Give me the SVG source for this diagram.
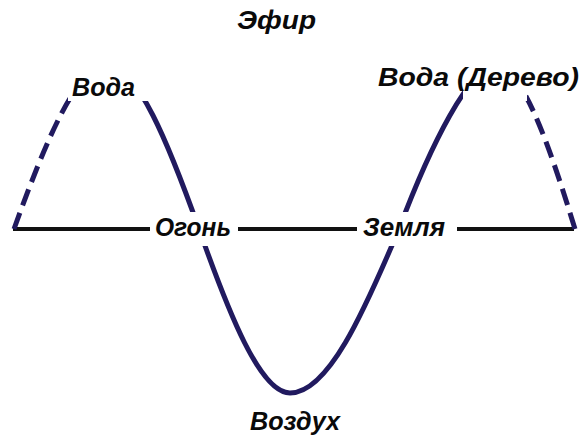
<svg xmlns="http://www.w3.org/2000/svg" width="584" height="439" viewBox="0 0 584 439">
  <style>
    .axis { stroke: #111111; stroke-width: 4; fill: none; stroke-linecap: butt; }
    .wave { stroke: #211a5f; stroke-width: 5; fill: none; stroke-linecap: butt; }
    .dash { stroke-dasharray: 17 8; }
    .mask { fill: #ffffff; stroke: none; }
    .lbl { font-family: "Liberation Sans", Arial, sans-serif; font-weight: bold; font-style: italic; font-size: 25px; fill: #0a0a0a; }
  </style>
  <rect width="584" height="439" fill="#ffffff"/>
  <g id="connectors">
    <line class="axis" x1="13" y1="229" x2="574" y2="229"/>
    <path class="wave dash" d="M14,229 C44.3,145 76.6,65 107,65"/>
    <path class="wave" d="M107,65 C137,65 169,145 199,229 C228.7,313 260.2,393 290,393 C328,393 363.5,313 399,229 C430.6,145 470,66 496,66"/>
    <path class="wave dash" d="M575,229 C549.2,145 521.8,66 496,66"/>
  </g>
  <g id="node-efir">
    <text class="lbl" x="237" y="29" textLength="79" lengthAdjust="spacingAndGlyphs">Эфир</text>
  </g>
  <g id="node-voda-left">
    <rect class="mask" x="68" y="40" width="82" height="61"/>
    <text class="lbl" x="72" y="96" textLength="63" lengthAdjust="spacingAndGlyphs">Вода</text>
  </g>
  <g id="node-voda-right">
    <rect class="mask" x="463" y="40" width="64" height="61"/>
    <text class="lbl" x="378" y="86" textLength="201" lengthAdjust="spacingAndGlyphs">Вода (Дерево)</text>
  </g>
  <g id="node-ogon">
    <rect class="mask" x="150" y="212" width="88" height="34"/>
    <text class="lbl" x="155" y="236" textLength="76" lengthAdjust="spacingAndGlyphs">Огонь</text>
  </g>
  <g id="node-zemlya">
    <rect class="mask" x="357" y="212" width="100" height="34"/>
    <text class="lbl" x="363" y="236" textLength="82" lengthAdjust="spacingAndGlyphs">Земля</text>
  </g>
  <g id="node-vozduh">
    <text class="lbl" x="250" y="430" textLength="90" lengthAdjust="spacingAndGlyphs">Воздух</text>
  </g>
</svg>
